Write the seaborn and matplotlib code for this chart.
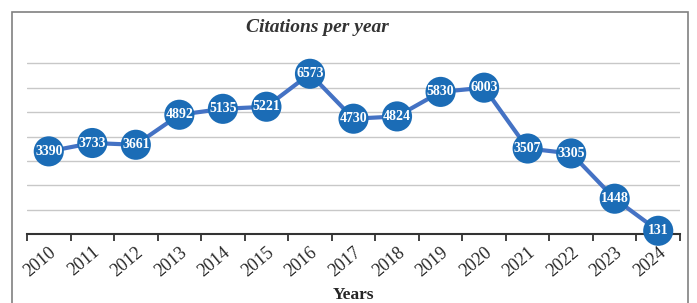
import numpy as np
import matplotlib
matplotlib.use('Agg')
import matplotlib.pyplot as plt
import pandas as pd
import seaborn as sns
from matplotlib.patches import Rectangle

# chart data
years = ['2010', '2011', '2012', '2013', '2014', '2015', '2016', '2017',
         '2018', '2019', '2020', '2021', '2022', '2023', '2024']
citations = [3390, 3733, 3661, 4892, 5135, 5221, 6573, 4730,
             4824, 5830, 6003, 3507, 3305, 1448, 131]

df = pd.DataFrame({'year': years, 'citations': citations})
df['pos'] = np.arange(len(df))

sns.set_style('white')
plt.rcParams['font.family'] = ['Liberation Serif', 'DejaVu Serif']

fig = plt.figure(figsize=(6.97, 3.03), dpi=100)
ax = fig.add_axes([27 / 697, 69 / 303, 653 / 697, 195 / 303])

# outer frame around the figure
fig.patches.append(Rectangle((12 / 697, -0.05), 676 / 697, (303 - 12) / 303 + 0.05,
                             transform=fig.transFigure, fill=False,
                             edgecolor='#808080', lw=1.2))

sns.lineplot(data=df, x='pos', y='citations', color='#4472c4', lw=3, ax=ax, zorder=2)
sns.scatterplot(data=df, x='pos', y='citations', color='#1b6cb6', s=470,
                edgecolor='none', ax=ax, zorder=3, clip_on=False)

for p, v in zip(df['pos'], df['citations']):
    ax.text(p, v, str(v), color='white', fontsize=10, fontweight='bold',
            ha='center', va='center', zorder=4)

ax.set_xlim(-0.5, len(years) - 0.5)
ax.set_ylim(0, 8000)
ax.set_yticks(np.arange(1000, 8000, 1000))
ax.set_yticklabels([])
ax.tick_params(axis='y', length=0)
ax.grid(axis='y', color='#c8c8c8', lw=1)
ax.set_axisbelow(True)

ax.set_xticks(df['pos'])
ax.set_xticklabels(years, rotation=40, ha='right', va='top', rotation_mode='anchor',
                   fontsize=13)
ax.set_xticks(np.arange(-0.5, len(years)), minor=True)
ax.tick_params(axis='x', which='major', length=0, pad=7)
ax.tick_params(axis='x', which='minor', length=5, width=1.3, color='#333333',
               direction='out', bottom=True)

for s in ['left', 'right', 'top']:
    ax.spines[s].set_visible(False)
ax.spines['bottom'].set_color('#333333')
ax.spines['bottom'].set_linewidth(1.5)

ax.set_ylabel('')
ax.set_xlabel('Years', fontsize=12.5, fontweight='bold', labelpad=5)
fig.text(317 / 697, 1 - 28 / 303, 'Citations per year', fontsize=14,
         fontstyle='italic', fontweight='bold', color='#333333',
         ha='center', va='center')

fig.savefig('out.png', dpi=100)
